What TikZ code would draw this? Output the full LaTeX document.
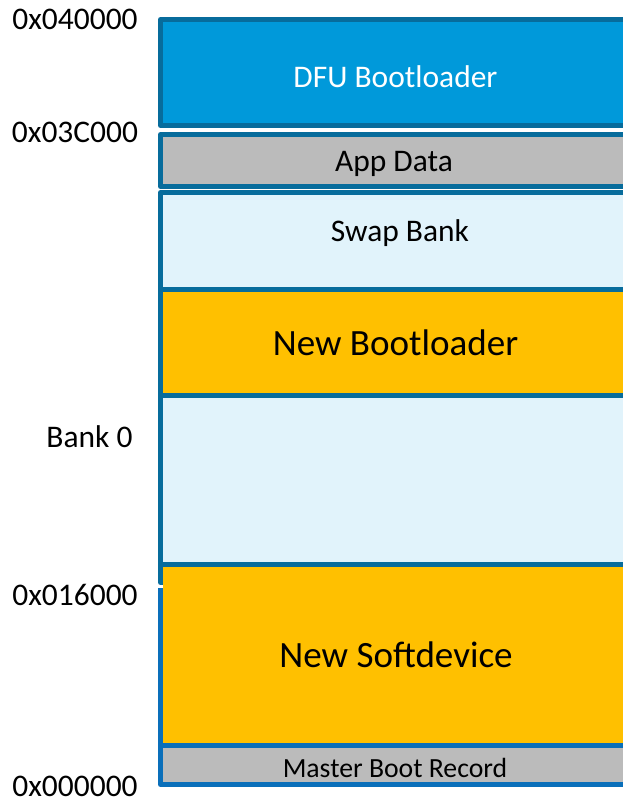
\documentclass[tikz,border=0pt]{standalone}
\usepackage{fontspec}
\setmainfont{Carlito}
\definecolor{teal}{HTML}{076C9C}
\definecolor{lowblue}{HTML}{0A6FBA}
\definecolor{dfublue}{HTML}{0099DA}
\definecolor{paleblue}{HTML}{E1F3FB}
\definecolor{gold}{HTML}{FFC000}
\definecolor{greybox}{HTML}{BBBBBB}
\begin{document}
\begin{tikzpicture}[x=0.75pt,y=-0.75pt,
  region/.style={line width=3.75pt,line join=round},
  txt/.style={inner sep=0pt,anchor=base,font=\fontsize{23.6}{28}\selectfont},
  bigtxt/.style={inner sep=0pt,anchor=base,font=\fontsize{27.8}{32}\selectfont},
  smalltxt/.style={inner sep=0pt,anchor=base,font=\fontsize{20.8}{25}\selectfont}]
\useasboundingbox (0,0) rectangle (623,802);
\clip (0,0) rectangle (623,802);
% DFU bootloader
\draw[region,draw=teal,fill=dfublue] (160.5,19.5) rectangle (640,125.5);
% App data
\draw[region,draw=teal,fill=greybox] (160.5,134.5) rectangle (640,186.5);
% Bank 0
\draw[region,draw=teal,fill=paleblue] (160.5,192.5) rectangle (640,582.5);
% New bootloader
\draw[region,draw=teal,fill=gold] (160.5,289) rectangle (640,395.5);
% New softdevice
\fill[gold] (163,566) rectangle (640,743);
\draw[region,draw=teal] (160.5,564) -- (640,564);
\draw[region,draw=lowblue] (160.5,588) -- (160.5,784.5);
% Master boot record
\draw[region,draw=lowblue,fill=greybox] (160.5,745.5) rectangle (640,784.5);
% texts
\node[txt,text=white] (tdfu) at (395.5,88) {DFU Bootloader};
\node[txt] (tapp) at (394,172) {App Data};
\node[txt] (tswap) at (400,242) {Swap Bank};
\node[bigtxt] (tnbl) at (395.5,355) {New Bootloader};
\node[bigtxt] (tnsd) at (396,667) {New Softdevice};
\node[smalltxt] (tmbr) at (395,777) {Master Boot Record};
% addresses
\node[txt] (a1) at (75,29.5) {0x040000};
\node[txt] (a2) at (75,143) {0x03C000};
\node[txt] (bank) at (89.5,447) {Bank 0};
\node[txt] (a3) at (75,605) {0x016000};
\node[txt] (a4) at (75,796) {0x000000};
\end{tikzpicture}
\end{document}
